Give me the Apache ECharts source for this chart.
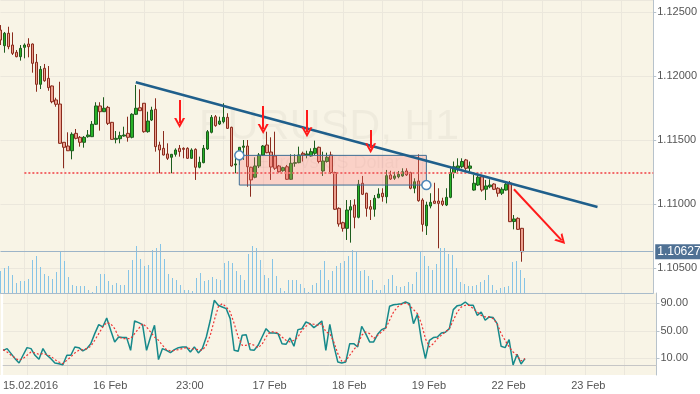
<!DOCTYPE html>
<html><head><meta charset="utf-8">
<script src="https://cdn.jsdelivr.net/npm/echarts@6/dist/echarts.min.js"></script>
<style>html,body{margin:0;padding:0;background:#fff;}#c{width:700px;height:394px;}</style>
</head><body><div id="c"></div>
<script>
// ---- data (EURUSD H1) ----
const opens=[1.12359,1.12237,1.12334,1.12242,1.12185,1.12151,1.12224,1.12250,1.12250,1.12107,
1.11935,1.12060,1.11982,1.11922,1.11813,1.11781,1.11482,1.11453,1.11416,1.11552,
1.11521,1.11482,1.11526,1.11526,1.11623,1.11766,1.11721,1.11755,1.11638,1.11505,
1.11510,1.11531,1.11552,1.11521,1.11701,1.11752,1.11787,1.11565,1.11656,1.11740,
1.11461,1.11435,1.11391,1.11365,1.11388,1.11435,1.11435,1.11435,1.11357,1.11427,
1.11287,1.11323,1.11430,1.11560,1.11682,1.11625,1.11643,1.11677,1.11599,1.11305,
1.11344,1.11443,1.11453,1.11287,1.11209,1.11297,1.11383,1.11461,1.11406,1.11375,
1.11297,1.11260,1.11291,1.11193,1.11318,1.11323,1.11396,1.11383,1.11375,1.11396,
1.11443,1.11258,1.11332,1.11383,1.11245,1.10966,1.10854,1.10810,1.10953,1.10992,
1.10896,1.11162,1.11084,1.10979,1.10959,1.11049,1.11084,1.11057,1.11227,1.11201,
1.11213,1.11219,1.11258,1.11245,1.11123,1.11180,1.11031,1.10830,1.10984,1.11023,
1.11023,1.11023,1.10992,1.11052,1.11245,1.11279,1.11291,1.11344,1.11279,1.11109,
1.11148,1.11213,1.11115,1.11135,1.11156,1.11123,1.11084,1.11109,1.11164,1.10863,
1.10888,1.10810];
const closes=[1.12281,1.12334,1.12229,1.12177,1.12151,1.12216,1.12242,1.12229,1.12099,1.11935,
1.12052,1.11963,1.11909,1.11799,1.11779,1.11474,1.11443,1.11416,1.11545,1.11513,
1.11482,1.11521,1.11539,1.11623,1.11766,1.11721,1.11748,1.11630,1.11505,1.11513,
1.11534,1.11539,1.11521,1.11701,1.11748,1.11729,1.11565,1.11648,1.11734,1.11448,
1.11422,1.11383,1.11357,1.11388,1.11422,1.11409,1.11427,1.11357,1.11422,1.11287,
1.11326,1.11435,1.11565,1.11677,1.11612,1.11648,1.11677,1.11591,1.11297,1.11313,
1.11443,1.11453,1.11291,1.11188,1.11297,1.11383,1.11453,1.11401,1.11289,1.11279,
1.11252,1.11284,1.11193,1.11318,1.11323,1.11383,1.11383,1.11391,1.11409,1.11435,
1.11332,1.11336,1.11365,1.11245,1.10959,1.10844,1.10810,1.10953,1.10979,1.10896,
1.11154,1.11076,1.10966,1.10959,1.11045,1.11078,1.11057,1.11221,1.11195,1.11219,
1.11232,1.11252,1.11227,1.11123,1.11174,1.11026,1.10841,1.10992,1.11013,1.11005,
1.11005,1.10997,1.11052,1.11245,1.11291,1.11297,1.11332,1.11279,1.11297,1.11162,
1.11209,1.11109,1.11141,1.11148,1.11115,1.11084,1.11115,1.11154,1.10862,1.10883,
1.10802,1.10627];
const highs=[1.12398,1.12344,1.12385,1.12341,1.12203,1.12242,1.12255,1.12295,1.12254,1.12172,
1.12078,1.12094,1.12078,1.11926,1.11830,1.11955,1.11484,1.11560,1.11560,1.11586,
1.11531,1.11531,1.11578,1.11648,1.11795,1.11795,1.11834,1.11766,1.11641,1.11570,
1.11565,1.11604,1.11682,1.11709,1.11930,1.11896,1.11789,1.11721,1.11760,1.11826,
1.11487,1.11570,1.11474,1.11391,1.11435,1.11461,1.11443,1.11443,1.11435,1.11435,
1.11370,1.11461,1.11578,1.11695,1.11695,1.11682,1.11787,1.11709,1.11604,1.11370,
1.11445,1.11500,1.11500,1.11291,1.11365,1.11398,1.11461,1.11565,1.11521,1.11565,
1.11305,1.11291,1.11305,1.11388,1.11388,1.11448,1.11409,1.11416,1.11435,1.11495,
1.11448,1.11409,1.11401,1.11409,1.11252,1.10974,1.10862,1.11031,1.11031,1.11037,
1.11188,1.11219,1.11088,1.11031,1.11070,1.11123,1.11123,1.11266,1.11260,1.11252,
1.11258,1.11279,1.11279,1.11252,1.11201,1.11388,1.11045,1.11018,1.11084,1.11166,
1.11123,1.11049,1.11123,1.11279,1.11332,1.11357,1.11357,1.11352,1.11332,1.11227,
1.11240,1.11227,1.11188,1.11193,1.11162,1.11131,1.11131,1.11174,1.11180,1.10914,
1.10896,1.10813];
const lows=[1.12242,1.12182,1.12209,1.12164,1.12146,1.12120,1.12138,1.12146,1.12026,1.11877,
1.11898,1.11955,1.11885,1.11787,1.11760,1.11470,1.11279,1.11414,1.11349,1.11505,
1.11448,1.11440,1.11518,1.11523,1.11617,1.11573,1.11719,1.11617,1.11504,1.11474,
1.11474,1.11526,1.11487,1.11513,1.11695,1.11727,1.11557,1.11557,1.11648,1.11409,
1.11240,1.11379,1.11344,1.11240,1.11370,1.11370,1.11357,1.11352,1.11352,1.11188,
1.11279,1.11318,1.11422,1.11552,1.11604,1.11617,1.11630,1.11586,1.11291,1.11240,
1.11305,1.11344,1.11135,1.11057,1.11201,1.11281,1.11375,1.11396,1.11188,1.11266,
1.11245,1.11252,1.11188,1.11188,1.11291,1.11318,1.11332,1.11357,1.11370,1.11383,
1.11318,1.11219,1.11323,1.11234,1.10953,1.10823,1.10784,1.10719,1.10698,1.10810,
1.10888,1.11070,1.10901,1.10875,1.10901,1.11045,1.11018,1.11005,1.11188,1.11188,
1.11201,1.11213,1.11219,1.11115,1.11084,1.11018,1.10784,1.10758,1.10966,1.11004,
1.10654,1.10984,1.10984,1.11045,1.11201,1.11252,1.11279,1.11266,1.11252,1.11104,
1.11141,1.11096,1.11031,1.11123,1.11109,1.11057,1.11070,1.11104,1.10859,1.10802,
1.10797,1.10549];
const volumes=[22,25,27,18,10,12,12,14,33,37,26,19,17,14,21,41,32,16,8,7,
7,7,3,1,7,19,19,12,8,10,8,8,23,33,47,34,27,28,43,45,
49,34,19,15,13,8,3,3,2,15,20,12,13,16,14,13,30,32,30,22,
18,13,39,47,45,33,18,15,34,17,5,2,13,13,13,9,5,1,8,10,
23,32,13,22,27,30,32,37,43,42,22,23,17,13,3,3,8,14,18,7,
6,7,11,9,21,41,37,27,23,29,45,45,39,38,25,11,9,7,7,8,
11,13,18,8,3,5,6,7,31,32,23,15];
const stochK=[21.6,24.1,16.8,9.5,3.2,14.4,25.5,24.1,14.4,8.5,
24.1,14.4,9.5,3.2,2.2,0.5,14.4,14.4,26.5,25.5,
20.7,24.1,31.3,45.9,59.0,55.6,68.7,50.7,33.8,41.0,
40.1,40.1,21.6,64.3,61.9,59.0,21.6,41.0,58.0,8.1,
24.1,21.6,18.2,22.6,25.5,26.5,26.5,19.2,26.5,17.8,
24.1,41.0,65.3,94.4,87.1,84.7,82.2,67.7,21.6,20.2,
43.5,44.4,22.6,21.6,28.9,41.0,53.1,46.8,46.8,45.9,
31.3,30.4,39.6,27.5,51.7,53.1,62.8,60.4,54.6,59.0,
64.3,21.6,59.5,28.9,4.7,3.2,4.7,31.3,
31.3,26.5,56.6,45.9,33.8,33.8,44.9,51.7,54.1,85.7,
88.0,88.5,89.5,91.9,89.5,60.4,74.0,36.2,9.5,36.2,
40.1,41.0,46.8,47.8,53.1,80.8,86.6,87.6,91.9,87.1,
87.1,72.5,77.4,65.3,70.2,69.2,60.4,27.5,25.5,37.1,
0.3,15.9,1.7,9.5];
const stochD=[22.6,19.2,14.4,10.5,7.1,9.5,14.4,19.2,17.8,15.8,
16.8,15.4,13.0,8.1,4.7,2.2,7.1,12.0,17.8,21.6,
22.6,24.1,27.5,36.2,45.9,55.6,61.9,60.4,53.1,41.0,
38.6,38.6,38.6,45.9,53.1,60.4,55.6,48.3,41.0,36.2,
28.9,22.6,20.7,21.6,22.6,24.1,25.5,24.1,23.6,22.6,
21.6,28.9,43.5,65.3,84.7,89.5,84.7,77.4,60.4,41.0,
28.9,28.9,31.3,28.9,25.5,30.4,41.0,48.3,48.3,46.8,
41.0,36.2,33.8,36.2,41.0,50.7,56.6,60.4,59.5,58.0,
60.4,48.3,45.9,33.8,16.8,5.7,6.1,14.4,
22.6,28.9,43.5,48.3,45.9,38.6,43.5,48.3,53.1,65.3,
77.4,84.7,88.5,90.4,87.1,80.8,75.0,60.4,38.6,26.5,
31.3,38.6,43.5,48.3,53.1,65.3,77.4,84.7,87.1,87.1,
82.2,77.4,72.5,70.2,70.2,67.7,60.4,45.9,36.2,26.5,
19.2,14.4,6.1,9.5];
const tickIndex=[6,26,46,66,86,106,126,146];
const tickLabels=['15.02.2016','16 Feb','23:00','17 Feb','18 Feb','19 Feb','22 Feb','23 Feb'];
const oscLevels=[10,50,90];
const lastPrice=1.10627;
const levelLine=[[6.4,1.11242],[164,1.11242]];
const trendLine=[[34,1.11951],[149.7,1.10977]];
const downArrows=[[[45.0,1.11813],[45.0,1.11632]],[[66.0,1.11766],[66.0,1.11585]],[[77.0,1.11734],[77.0,1.11561]],[[93.1,1.11578],[93.1,1.11436]],[[128.9,1.11115],[140.5,1.10716]]];
const zoneBox=[[60.0,1.11380],[107.1,1.11148]];

// ---- build chart ----
const NCAT=165;
const categories=Array.from({length:NCAT},(_,j)=>{const k=tickIndex.indexOf(j);return k>=0?tickLabels[k]:('c'+j);});
const candles=opens.map((o,i)=>[o,closes[i],lows[i],highs[i]]);
const FONT='"Liberation Sans", Arial, sans-serif';
const cream='#f8f4e6', gridCol='#ebe7dc', axisCol='#b7c2cb', txt='#555';
const isGrid=i=>(i-6)%10===0, isLabel=i=>(i-6)%20===0;
const chev='path://M0,10 L5,0 L10,10 L8,10 L5,4 L2,10 Z';
const GL=0.5, GW=656;

const arrowLines=downArrows.map(a=>[{coord:a[0],symbol:'none'},{coord:a[1],symbol:chev,symbolSize:[11,10]}]);
const red={color:'#ff1a1a',width:2,type:'solid'};

const chart=echarts.init(document.getElementById('c'),null,{renderer:'canvas'});
chart.setOption({
  animation:false,
  backgroundColor:'#fff',
  textStyle:{fontFamily:FONT},
  graphic:[
    {type:'rect',shape:{x:0,y:0,width:1,height:375},z:0,silent:true,style:{fill:cream}},
    {type:'text',x:329,y:127,z:1,silent:true,style:{text:'EURUSD, H1',font:'43px '+FONT,fill:'rgba(0,0,0,0.035)',align:'center',verticalAlign:'middle'}},
    {type:'text',x:329,y:163,z:1,silent:true,style:{text:'Euro vs US Dollar',font:'18px '+FONT,fill:'rgba(0,0,0,0.035)',align:'center',verticalAlign:'middle'}}
  ],
  grid:[
    {left:GL,top:0,width:GW,height:293,show:true,backgroundColor:cream,borderWidth:0},
    {left:GL,top:233,width:GW,height:60},
    {left:GL,top:293,width:GW,height:82,show:true,backgroundColor:cream,borderWidth:0}
  ],
  xAxis:[
    {type:'category',gridIndex:0,data:categories,boundaryGap:false,axisTick:{show:false},axisLabel:{show:false},
     axisLine:{show:true,lineStyle:{color:'#a9bccb'}},splitLine:{show:true,interval:isGrid,lineStyle:{color:gridCol}}},
    {type:'category',gridIndex:1,data:categories,boundaryGap:false,show:false},
    {type:'category',gridIndex:2,data:categories,boundaryGap:false,axisTick:{show:false},
     axisLine:{show:true,lineStyle:{color:'#c6c6c6'}},
     axisLabel:{show:true,interval:isLabel,color:txt,fontSize:11,margin:5,padding:[0,0,0,7],hideOverlap:false},
     splitLine:{show:true,interval:isGrid,lineStyle:{color:gridCol}}}
  ],
  yAxis:[
    {type:'value',gridIndex:0,position:'right',min:1.10304688,max:1.1259375,splitNumber:5,
     axisLine:{show:true,lineStyle:{color:axisCol}},axisTick:{show:true,length:3,lineStyle:{color:axisCol}},
     axisLabel:{color:txt,fontSize:11,margin:4,showMinLabel:false,showMaxLabel:false,formatter:v=>v.toFixed(5)},
     splitLine:{show:true,lineStyle:{color:gridCol}}},
    {type:'value',gridIndex:1,min:0,max:60,show:false},
    {type:'value',gridIndex:2,position:'right',min:-14.3,max:105,
     axisLine:{show:true,lineStyle:{color:axisCol}},axisTick:{show:true,length:3,customValues:oscLevels,lineStyle:{color:axisCol}},
     axisLabel:{color:txt,fontSize:11,margin:4,customValues:oscLevels,formatter:v=>v.toFixed(2)},
     splitLine:{show:true,lineStyle:{color:gridCol}}}
  ],
  series:[
    {type:'bar',xAxisIndex:1,yAxisIndex:1,data:volumes,barWidth:1,itemStyle:{color:'#86c4e6'},z:2,silent:true},
    {type:'candlestick',xAxisIndex:0,yAxisIndex:0,data:candles,barWidth:3,z:3,
     itemStyle:{color:'#27b227',color0:'#eca08f',borderColor:'#1d5c1d',borderColor0:'#8a2b1d',borderWidth:1},
     markArea:{silent:true,z:4,itemStyle:{color:'rgba(255,120,120,0.28)',borderColor:'#3d6d95',borderWidth:1},
       data:[[{coord:zoneBox[0]},{coord:zoneBox[1]}]]},
     markLine:{silent:true,symbol:'none',z:6,precision:5,animation:false,
       data:[
        {yAxis:lastPrice,lineStyle:{color:'#9cb4c8',width:1,type:'solid'},
         label:{show:true,position:'end',distance:2,formatter:p=>Number(p.value).toFixed(5),color:'#fff',backgroundColor:'#4f7194',padding:[2,2,1,2],fontSize:12,fontFamily:FONT}},
        [{coord:levelLine[0],lineStyle:{color:'#f26a6a',width:2,type:[2,2]},label:{show:false}},{coord:levelLine[1]}],
        [{coord:trendLine[0],lineStyle:{color:'#1f5f8b',width:2.5,type:'solid'},label:{show:false}},{coord:trendLine[1]}],
        ...arrowLines.map(a=>[Object.assign({},a[0],{lineStyle:red,label:{show:false}}),a[1]])
       ]},
     markPoint:{silent:true,z:7,symbol:'circle',symbolSize:9,label:{show:false},
       itemStyle:{color:'#ffffff',borderColor:'#4d86b8',borderWidth:1.5},
       data:[{coord:zoneBox[0]},{coord:zoneBox[1]}]}
    },
    {type:'line',xAxisIndex:2,yAxisIndex:2,data:stochK,symbol:'none',lineStyle:{color:'#16898a',width:1.5},z:3,silent:true},
    {type:'line',xAxisIndex:2,yAxisIndex:2,data:stochD,symbol:'none',lineStyle:{color:'#ee3535',width:1.2,type:[2,2]},z:4,silent:true}
  ]
});
</script></body></html>
